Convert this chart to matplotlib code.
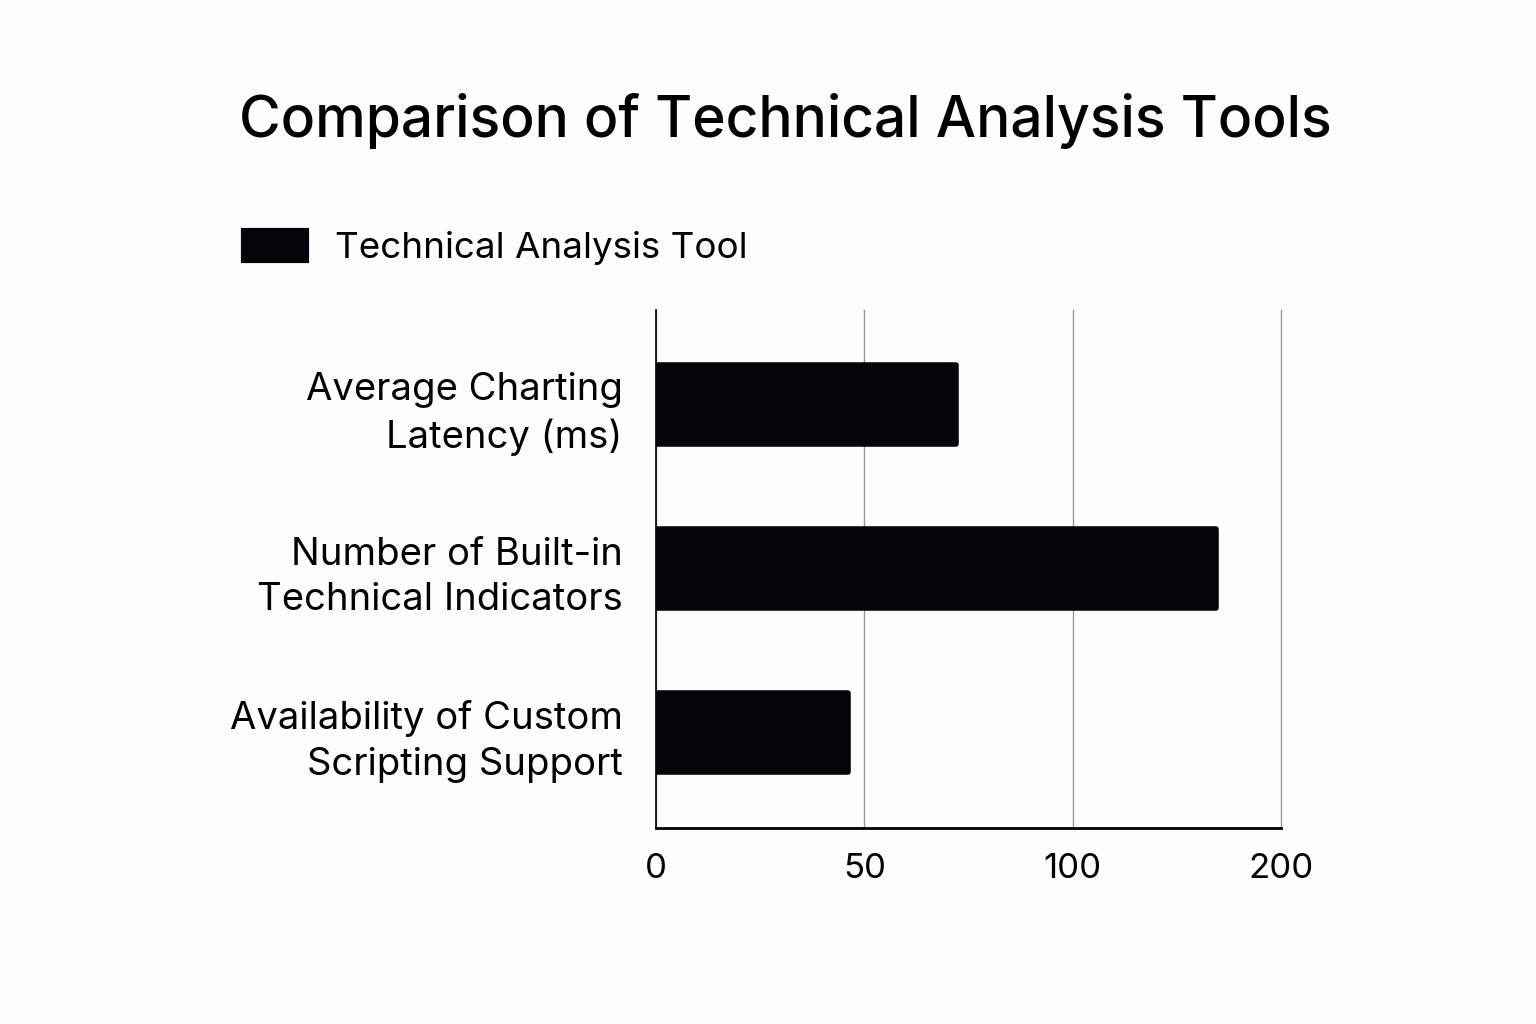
import numpy as np
import matplotlib.pyplot as plt
from matplotlib.patches import Patch

plt.rcParams['font.family'] = ['Inter', 'DejaVu Sans']

categories = ["Average Charting\nLatency (ms)",
              "Number of Built-in\nTechnical Indicators",
              "Availability of Custom\nScripting Support"]
values = [72, 169, 46]
tick_vals = [0, 50, 100, 200]
tick_pos = [0, 1, 2, 3]

# ticks are evenly spaced although their values are not
def fwd(x):
    return np.interp(x, tick_vals, tick_pos)

def inv(p):
    return np.interp(p, tick_pos, tick_vals)

fig = plt.figure(figsize=(15.36, 10.24), dpi=100)
fig.patch.set_facecolor('#fdfdfd')
ax = fig.add_axes([0.427, 0.191, 0.407, 0.506])
ax.set_facecolor('#fdfdfd')
ax.set_xscale('function', functions=(fwd, inv))

y = np.arange(len(categories))
ax.barh(y, values, height=0.48, color='#030509', edgecolor='#030509',
        linewidth=4, joinstyle='round', zorder=3)

ax.set_xlim(0, 200)
ax.set_ylim(2.585, -0.575)
ax.set_xticks(tick_vals)
ax.set_xticklabels([str(v) for v in tick_vals])
ax.set_yticks(y)
ax.set_yticklabels(categories, fontsize=27.5, ha='right',
                   multialignment='right', linespacing=1.35)
ax.tick_params(axis='x', length=0, pad=18, labelsize=25)
ax.tick_params(axis='y', length=0, pad=24)
ax.grid(axis='x', color='#999999', linewidth=1, zorder=0)
for line in ax.get_xgridlines():
    line.set_clip_on(False)
for s in ['top', 'right']:
    ax.spines[s].set_visible(False)
ax.spines['left'].set_linewidth(1.2)
ax.spines['bottom'].set_linewidth(2)

fig.text(0.5115, 0.882, "Comparison of Technical Analysis Tools",
         ha='center', va='center', fontsize=41, fontweight='medium')

handle = Patch(facecolor='#030509', edgecolor='#030509', linewidth=3,
               joinstyle='round')
fig.legend([handle], ["Technical Analysis Tool"], loc='center left',
           bbox_to_anchor=(0.158, 0.758), frameon=False, fontsize=26.5,
           handlelength=1.75, handleheight=0.88, handletextpad=0.75,
           borderpad=0, borderaxespad=0)

plt.savefig("out.png", dpi=100, facecolor=fig.get_facecolor())
